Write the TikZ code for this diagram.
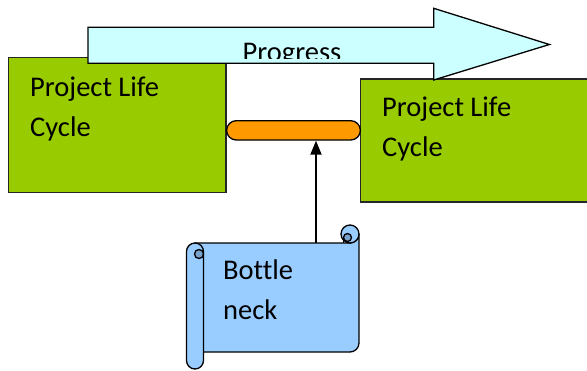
\documentclass[tikz,border=0pt]{standalone}
\usepackage{fontspec}
\setmainfont{Carlito}[Ligatures=NoCommon]
\usetikzlibrary{arrows.meta, positioning, calc}

\definecolor{lifegreen}{HTML}{99CC00}
\definecolor{neckorange}{HTML}{FF9900}
\definecolor{progcyan}{HTML}{CCFFFF}
\definecolor{scrollblue}{HTML}{99CCFF}
\definecolor{curlblue}{HTML}{7AA3CC}

\tikzset{
  lifebox/.style={draw=black!85, line width=1.4pt, fill=lifegreen, inner sep=0pt},
  necktube/.style={draw=black, line width=1.3pt, fill=neckorange, rounded corners=9.6pt,
    minimum width=133.7pt, minimum height=19.3pt, inner sep=0pt},
  boxtext/.style={font=\fontsize{28.5}{40}\selectfont, align=left, inner sep=0pt},
  scrollpart/.style={draw=black, line width=1.3pt, fill=scrollblue},
  curlpart/.style={draw=black, line width=1.3pt, fill=curlblue},
}

\begin{document}
\begin{tikzpicture}[x=1pt, y=-1pt]
\useasboundingbox (0,0) rectangle (587,370);

% Life cycle boxes
\node[lifebox, minimum width=217.5pt, minimum height=135pt] (lifeA) at (117.25,124.8) {};
\node[lifebox, minimum width=232pt, minimum height=123pt] (lifeB) at (476.3,140.5) {};
\node[boxtext, anchor=north west] (lifeAtext) at (30,77) {Project Life\\Cycle};
\node[boxtext, anchor=north west] (lifeBtext) at (382,97) {Project Life\\Cycle};

% Progress arrow
\filldraw[draw=black, line width=1.3pt, fill=progcyan]
  (88,27.3) -- (433.7,27.3) -- (433.7,8.3) -- (549.4,44.5) -- (433.7,80) -- (433.7,63.3) -- (88,63.3) -- cycle;
\begin{scope}
\clip (88,27.3) rectangle (433.7,58.3);
\node[font=\fontsize{28.5}{34}\selectfont, inner sep=0pt, anchor=base] (progress) at (292,61) {Progress};
\end{scope}

% Bottleneck
\node[necktube] (neck) at (293.5,130.35) {};

% Scroll (y axis points down, so angles run clockwise on screen)
\filldraw[scrollpart] (195,243) -- (350,243) arc[start angle=90, end angle=0, radius=9]
  -- (359,343) arc[start angle=0, end angle=90, radius=9] -- (195,352) -- cycle;
\filldraw[scrollpart] (350,234) circle[radius=9];
\filldraw[curlpart] (347.5,237.5) circle[radius=4];
\draw[line width=1.3pt] (343.5,237.5) -- (343.5,243);
\filldraw[scrollpart] (186.5,251.5) arc[start angle=180, end angle=360, radius=8.5]
  -- (203.5,360.5) arc[start angle=0, end angle=180, radius=8.5] -- cycle;
\filldraw[curlpart] (199,254) circle[radius=4.5];
\node[boxtext, anchor=north west] (bottletext) at (223,260) {Bottle\\neck};
\coordinate (neckfoot) at (316,243);

\draw[line width=1.8pt, -{Triangle[width=11pt, length=14pt]}] (neckfoot) -- (neckfoot |- neck.south);
\end{tikzpicture}
\end{document}
